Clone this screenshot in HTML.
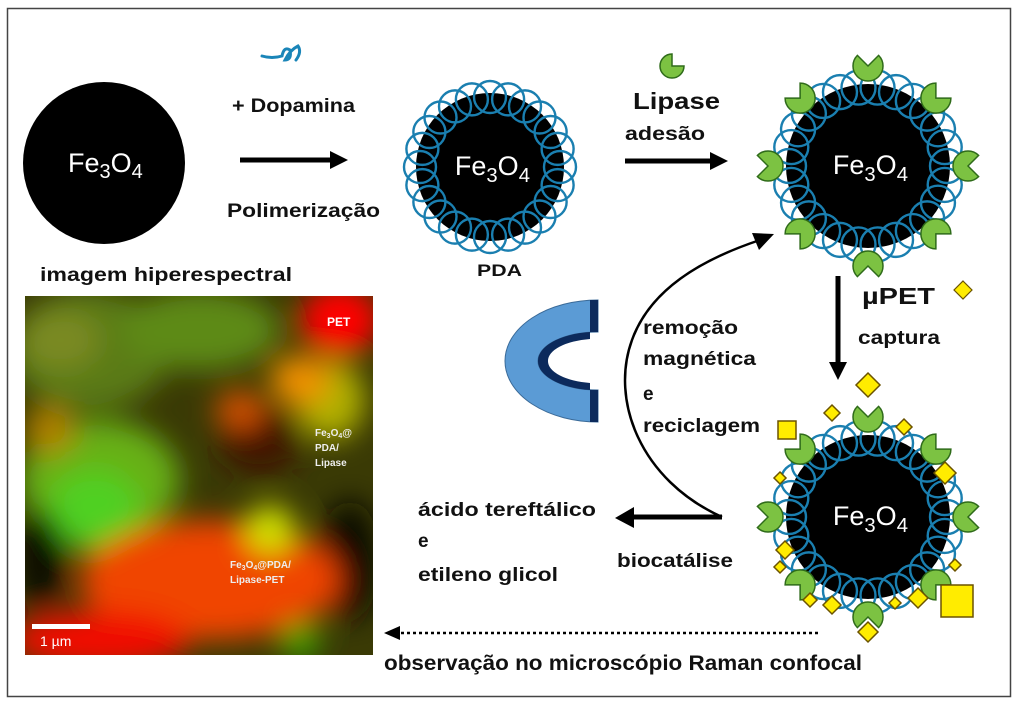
<!DOCTYPE html>
<html><head><meta charset="utf-8"><style>
html,body{margin:0;padding:0;background:#fff;}
svg{display:block;}
text{font-family:"Liberation Sans",sans-serif;font-weight:bold;fill:#111;}
</style></head><body>
<svg id="s" width="1024" height="707" viewBox="0 0 1024 707" xmlns="http://www.w3.org/2000/svg">
<defs>
<filter id="bl" x="-50%" y="-50%" width="200%" height="200%"><feGaussianBlur stdDeviation="14"/></filter>
<clipPath id="ic"><rect x="25" y="296" width="348" height="359"/></clipPath>
</defs>
<rect x="7.5" y="8.5" width="1003" height="688" fill="none" stroke="#444" stroke-width="1.5"/>

<!-- plain Fe3O4 -->
<circle cx="104" cy="163" r="81" fill="#000"/>
<text x="68" y="172" style="font-weight:normal;fill:#fff" font-size="27">Fe<tspan font-size="20" dy="6">3</tspan><tspan dy="-6">O</tspan><tspan font-size="20" dy="6">4</tspan></text>

<!-- dopamine squiggle -->
<path d="M262,56 Q272,59 282,56 Q284,46 290,50 Q292,60 285,60 Q290,50 298,46 Q302,52 296,60" fill="none" stroke="#1a85b8" stroke-width="3" stroke-linecap="round"/>
<text x="232" y="112" font-size="19" textLength="123" lengthAdjust="spacingAndGlyphs">+ Dopamina</text>
<line x1="240" y1="160" x2="332" y2="160" stroke="#000" stroke-width="5"/>
<path d="M330,151 L348,160 L330,169z" fill="#000"/>
<text x="227" y="217" font-size="19" textLength="153" lengthAdjust="spacingAndGlyphs">Polimerização</text>

<g id="p2"></g>
<text x="477" y="276" font-size="17" textLength="45" lengthAdjust="spacingAndGlyphs">PDA</text>

<!-- lipase icon -->
<path d="M672,66 L684,66 A12,12 0 1 1 672,54 Z" fill="#7cc242" stroke="#2f6b1a" stroke-width="1.5"/>
<text x="633" y="109" font-size="23" textLength="87" lengthAdjust="spacingAndGlyphs">Lipase</text>
<text x="625" y="140" font-size="19" textLength="80" lengthAdjust="spacingAndGlyphs">adesão</text>
<line x1="625" y1="161" x2="712" y2="161" stroke="#000" stroke-width="5"/>
<path d="M710,152 L728,161 L710,170z" fill="#000"/>

<g id="p3"></g>

<text x="40" y="281" font-size="19" textLength="252" lengthAdjust="spacingAndGlyphs">imagem hiperespectral</text>

<!-- hyperspectral image -->
<g clip-path="url(#ic)">
<rect x="25" y="296" width="348" height="359" fill="#3a3a05"/>
<g filter="url(#bl)">
<ellipse cx="90" cy="350" rx="80" ry="60" fill="#5a7a15"/>
<ellipse cx="200" cy="330" rx="80" ry="40" fill="#5d8a18"/>
<ellipse cx="100" cy="480" rx="80" ry="60" fill="#68b018"/>
<ellipse cx="95" cy="510" rx="45" ry="40" fill="#50d020"/>
<ellipse cx="60" cy="340" rx="40" ry="30" fill="#7a8a20"/>
<ellipse cx="260" cy="440" rx="40" ry="35" fill="#401500"/>
<ellipse cx="340" cy="320" rx="40" ry="35" fill="#ff0000"/>
<ellipse cx="330" cy="400" rx="35" ry="40" fill="#b0b000"/>
<ellipse cx="300" cy="380" rx="30" ry="25" fill="#f09000"/>
<ellipse cx="350" cy="560" rx="30" ry="60" fill="#101000"/>
<ellipse cx="210" cy="580" rx="130" ry="60" fill="#f04500"/>
<ellipse cx="100" cy="640" rx="90" ry="30" fill="#f01000"/>
<ellipse cx="270" cy="530" rx="25" ry="25" fill="#d0e000"/>
<ellipse cx="240" cy="410" rx="25" ry="20" fill="#d05000"/>
<ellipse cx="50" cy="430" rx="25" ry="25" fill="#b08000"/>
<ellipse cx="300" cy="640" rx="20" ry="20" fill="#40a000"/>
<ellipse cx="40" cy="560" rx="25" ry="50" fill="#101000"/>
</g>
</g>
<text x="327" y="326" font-size="12" style="fill:#fff">PET</text>
<text x="315" y="436" font-size="10" style="fill:#eee">Fe<tspan font-size="7" dy="2">3</tspan><tspan dy="-2">O</tspan><tspan font-size="7" dy="2">4</tspan><tspan dy="-2">@</tspan></text>
<text x="315" y="451" font-size="10" style="fill:#eee">PDA/</text>
<text x="315" y="466" font-size="10" style="fill:#eee">Lipase</text>
<text x="230" y="568" font-size="10" style="fill:#eee">Fe<tspan font-size="7" dy="2">3</tspan><tspan dy="-2">O</tspan><tspan font-size="7" dy="2">4</tspan><tspan dy="-2">@PDA/</tspan></text>
<text x="230" y="583" font-size="10" style="fill:#eee">Lipase-PET</text>
<rect x="32" y="624" width="58" height="5" fill="#fff"/>
<text x="40" y="646" font-size="14" style="font-weight:normal;fill:#fff">1 µm</text>

<!-- magnet -->
<path d="M505,361 A93,61 0 0 1 598,300 L598,332 A60,29 0 0 0 538,361 A60,29 0 0 0 598,390 L598,422 A93,61 0 0 1 505,361 Z" fill="#5b9bd5" stroke="#3a6a98" stroke-width="1"/>
<path d="M598,300 L598,332 L590,332 L590,300 Z" fill="#0c2a5c"/>
<path d="M598,390 L598,422 L590,422 L590,390 Z" fill="#0c2a5c"/>
<path d="M590,332 A60,29 0 0 0 538,361 A60,29 0 0 0 590,390 L590,383 A50,22 0 0 1 548,361 A50,22 0 0 1 590,339 Z" fill="#0c2a5c"/>

<!-- recycle curve -->
<path d="M722,517 C640,480 610,400 632,340 C650,290 700,260 760,240" fill="none" stroke="#000" stroke-width="2.5"/>
<path d="M774,234 L752,233 L759,250z" fill="#000"/>
<text x="643" y="334" font-size="19" textLength="95" lengthAdjust="spacingAndGlyphs">remoção</text>
<text x="643" y="365" font-size="19" textLength="113" lengthAdjust="spacingAndGlyphs">magnética</text>
<text x="643" y="400" font-size="19">e</text>
<text x="643" y="432" font-size="19" textLength="117" lengthAdjust="spacingAndGlyphs">reciclagem</text>

<!-- down arrow -->
<line x1="838" y1="276" x2="838" y2="364" stroke="#000" stroke-width="5"/>
<path d="M829,362 L838,380 L847,362z" fill="#000"/>
<text x="862" y="304" font-size="23" textLength="73" lengthAdjust="spacingAndGlyphs">µPET</text>
<path d="M963,281 L972,290 L963,299 L954,290z" fill="#ffec00" stroke="#6b5300" stroke-width="1.2"/>
<text x="858" y="344" font-size="19" textLength="82" lengthAdjust="spacingAndGlyphs">captura</text>

<g id="p4"></g>

<!-- biocatalysis arrow -->
<line x1="722" y1="517" x2="632" y2="517" stroke="#000" stroke-width="5"/>
<path d="M634,507 L615,518 L634,528z" fill="#000"/>
<text x="418" y="516" font-size="19" textLength="178" lengthAdjust="spacingAndGlyphs">ácido tereftálico</text>
<text x="418" y="547" font-size="19">e</text>
<text x="418" y="581" font-size="19" textLength="140" lengthAdjust="spacingAndGlyphs">etileno glicol</text>
<text x="617" y="567" font-size="19" textLength="116" lengthAdjust="spacingAndGlyphs">biocatálise</text>

<line x1="818" y1="633" x2="398" y2="633" stroke="#000" stroke-width="2.5" stroke-dasharray="3,3"/>
<path d="M400,626 L384,633 L400,640z" fill="#000"/>
<text x="384" y="670" font-size="21" textLength="478" lengthAdjust="spacingAndGlyphs">observação no microscópio Raman confocal</text>
</svg>
<script>
var NS="http://www.w3.org/2000/svg";
function el(p,t,a){var e=document.createElementNS(NS,t);for(var k in a)e.setAttribute(k,a[k]);p.appendChild(e);return e;}
function particle(id,cx,cy,rb,rl,lr,n,fs){
 var g=document.getElementById(id);
 el(g,"circle",{cx:cx,cy:cy,r:rb,fill:"#000"});
 for(var i=0;i<n;i++){var a=i/n*Math.PI*2;
  el(g,"circle",{cx:cx+rl*Math.cos(a),cy:cy+rl*Math.sin(a),r:lr,fill:"none",stroke:"#1a7fb0","stroke-width":2.4});}
 var t=el(g,"text",{x:cx-fs*1.3,y:cy+fs*0.3,"font-size":fs,style:"font-weight:normal;fill:#fff"});
 t.innerHTML='Fe<tspan font-size="'+(fs*0.75)+'" dy="7">3</tspan><tspan dy="-7">O</tspan><tspan font-size="'+(fs*0.75)+'" dy="7">4</tspan>';
}
function enz(g,x,y,ang,r){
 var a1=(ang-45)*Math.PI/180,a2=(ang+45)*Math.PI/180;
 var d="M"+x+","+y+" L"+(x+r*Math.cos(a2))+","+(y+r*Math.sin(a2))+" A"+r+","+r+" 0 1 1 "+(x+r*Math.cos(a1))+","+(y+r*Math.sin(a1))+" Z";
 el(g,"path",{d:d,fill:"#7cc242",stroke:"#2f6b1a","stroke-width":1.5});
}
particle("p2",490,167,74,70,16,24,27);
particle("p3",868,166,82,79,17,26,27);
particle("p4",868,517,82,79,17,26,27);
[["p3",868,166],["p4",868,517]].forEach(function(p){
 var g=document.getElementById(p[0]);
 for(var i=0;i<8;i++){var a=-90+i*45;var r=i%2?96:100;
  var x=p[1]+r*Math.cos(a*Math.PI/180),y=p[2]+r*Math.sin(a*Math.PI/180);
  enz(g,x,y,a,15);}
});
var g4=document.getElementById("p4");
var sq=[[868,385,12],[832,413,8],[904,427,8],[787,430,9,1],[945,473,11],[780,478,6],[785,550,9],[780,567,6],[955,565,6],[832,605,9],[810,600,7],[895,603,6],[918,598,10],[868,632,10],[957,601,16,1]];
sq.forEach(function(s){
 if(s[3]) el(g4,"rect",{x:s[0]-s[2],y:s[1]-s[2],width:2*s[2],height:2*s[2],fill:"#ffec00",stroke:"#6b5300","stroke-width":1.5});
 else el(g4,"path",{d:"M"+s[0]+","+(s[1]-s[2])+" L"+(s[0]+s[2])+","+s[1]+" L"+s[0]+","+(s[1]+s[2])+" L"+(s[0]-s[2])+","+s[1]+"Z",fill:"#ffec00",stroke:"#6b5300","stroke-width":1.5});
});
</script>
</body></html>
